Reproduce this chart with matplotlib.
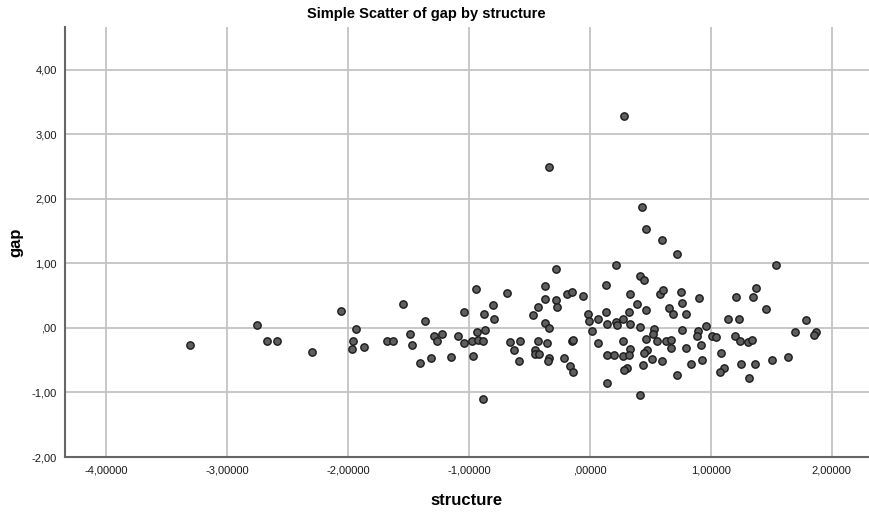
import numpy as np
import matplotlib.pyplot as plt
from matplotlib.ticker import FuncFormatter

plt.rcParams['font.family'] = ['Liberation Sans', 'DejaVu Sans']

# values
structure = [
    -3.31, -2.755, -2.67, -2.59, -2.30, -2.06, -1.93, -1.96, -1.97,
    -0.336, -0.275, -0.366, -0.942, -0.683, -1.543, -0.369, -0.281, -0.27, -0.427,
    -0.468, -0.187, -0.143, -0.052, -0.011, -0.006, 0.07, 0.017, 0.07, -0.804,
    -1.039, -0.874, -0.793, -1.361, -1.488, -1.289, -1.22, -1.262, -1.088, -0.931,
    -0.862, -1.036, -0.975, -0.923, -0.879, -1.865, -1.68, -1.628, -1.468, -1.405,
    -1.314, -1.146, -0.969, -0.88, -0.656, -0.579, -0.628, -0.587, -0.424, -0.353,
    -0.455, -0.449, -0.419, -0.336, -0.344, -0.209, -0.163, -0.138, -0.146, -0.135,
    -0.366, -0.339,
    0.281, 0.436, 0.466, 0.595, 0.725, 0.215, 1.54, 0.413, 0.446, 0.132,
    0.336, 0.579, 0.606, 0.755, 0.763, 0.903, 1.212, 1.374, 1.352, 1.457,
    0.39, 0.465, 0.655, 0.688, 0.798, 1.143, 1.234, 1.788, 1.70, 1.874,
    1.851, 0.132, 0.328, 0.278, 0.22, 0.229, 0.143, 0.33, 0.413, 0.529,
    0.523, 0.763, 0.895, 0.887, 0.959, 1.011, 1.047, 1.201, 1.24, 1.308,
    1.339, 0.275, 0.465, 0.56, 0.63, 0.674, 0.672, 0.793, 0.917, 0.336,
    0.474, 0.449, 0.143, 0.201, 0.275, 0.322, 0.512, 0.595, 1.088, 0.931,
    0.84, 0.44, 0.306, 0.287, 1.11, 1.077, 1.25, 1.37, 1.507, 1.642,
    1.32, 0.722, 0.146, 0.413,
]
gap = [
    -0.27, 0.04, -0.20, -0.20, -0.37, 0.26, -0.02, -0.20, -0.33,
    2.49, 0.915, 0.65, 0.595, 0.533, 0.367, 0.44, 0.43, 0.33, 0.33,
    0.20, 0.52, 0.56, 0.50, 0.21, 0.11, 0.13, -0.05, -0.23, 0.35,
    0.24, 0.21, 0.14, 0.10, -0.10, -0.12, -0.09, -0.21, -0.13, -0.07,
    -0.04, -0.23, -0.20, -0.18, -0.21, -0.30, -0.20, -0.20, -0.26, -0.54,
    -0.47, -0.45, -0.43, -1.10, -0.22, -0.21, -0.34, -0.52, -0.20, -0.24,
    -0.35, -0.41, -0.41, -0.47, -0.51, -0.47, -0.59, -0.69, -0.20, -0.18,
    0.07, 0.005,
    3.28, 1.875, 1.525, 1.36, 1.15, 0.98, 0.98, 0.80, 0.74, 0.66,
    0.52, 0.52, 0.58, 0.55, 0.39, 0.47, 0.48, 0.62, 0.48, 0.285,
    0.37, 0.275, 0.315, 0.22, 0.21, 0.14, 0.14, 0.115, -0.07, -0.07,
    -0.11, 0.25, 0.24, 0.135, 0.085, 0.04, 0.06, 0.055, 0.01, -0.02,
    -0.09, -0.035, -0.055, -0.12, 0.025, -0.12, -0.145, -0.13, -0.20, -0.22,
    -0.18, -0.20, -0.17, -0.20, -0.20, -0.18, -0.31, -0.31, -0.27, -0.33,
    -0.335, -0.39, -0.42, -0.42, -0.44, -0.42, -0.475, -0.52, -0.39, -0.50,
    -0.56, -0.58, -0.615, -0.655, -0.62, -0.68, -0.56, -0.56, -0.49, -0.45,
    -0.77, -0.73, -0.86, -1.04,
]
x_ticks = [-4, -3, -2, -1, 0, 1, 2]
y_ticks = [-2, -1, 0, 1, 2, 3, 4]


def spss_fmt(decimals):
    def f(v, pos):
        s = f"{v:.{decimals}f}".replace(".", ",")
        if s.startswith("0,"):
            s = s[1:]
        elif s.startswith("-0,"):
            s = s[2:]
        return s
    return FuncFormatter(f)


fig = plt.figure(figsize=(8.69, 5.12), dpi=100)
ax = fig.add_axes([0.0748, 0.1074, 0.9252, 0.8398])

ax.scatter(structure, gap, s=28, facecolor="#5e5e5e", edgecolor="#1a1a1a",
           linewidth=1.0, zorder=3)

ax.set_xlim(-4.34, 2.31)
ax.set_ylim(-2.0, 4.66)
ax.set_xticks(x_ticks)
ax.set_yticks(y_ticks)
ax.xaxis.set_major_formatter(spss_fmt(5))
ax.yaxis.set_major_formatter(spss_fmt(2))
ax.tick_params(length=0, labelsize=8, colors="#1a1a1a", pad=6)
ax.grid(True, color="#c4c4c4", linewidth=1.3, zorder=0)
ax.set_axisbelow(True)

for side in ["top", "right"]:
    ax.spines[side].set_visible(False)
for side in ["left", "bottom"]:
    ax.spines[side].set_color("#666666")
    ax.spines[side].set_linewidth(1.5)

ax.set_xlabel("structure", fontsize=12, fontweight="bold", labelpad=13)
ax.set_ylabel("gap", fontsize=12, fontweight="bold", labelpad=6)
fig.text(426 / 869, 1 - 14 / 512, "Simple Scatter of gap by structure",
         ha="center", va="center", fontsize=10.5, fontweight="bold")

fig.savefig("out.png", dpi=100)
